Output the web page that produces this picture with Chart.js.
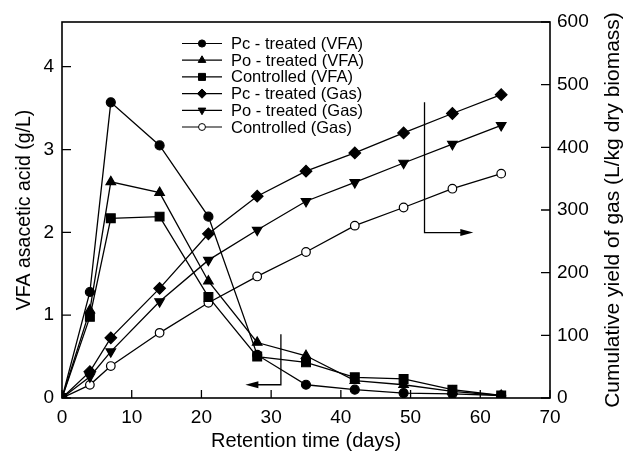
<!DOCTYPE html>
<html>
<head>
<meta charset="utf-8">
<script src="https://cdn.jsdelivr.net/npm/chart.js@4"></script>
<style>
  html, body { margin: 0; padding: 0; background: #fff; }
  #wrap { width: 633px; height: 455px; }
</style>
</head>
<body>
<div id="wrap"><canvas id="chart"></canvas></div>
<script>
// retention time (days)
var days = [0, 4, 7, 14, 21, 28, 35, 42, 49, 56, 63];

// VFA as acetic acid (g/L)
var pcVfa = [0, 1.28, 3.57, 3.05, 2.19, 0.52, 0.16, 0.10, 0.06, 0.05, 0.03];
var poVfa = [0, 1.06, 2.61, 2.48, 1.41, 0.67, 0.51, 0.21, 0.16, 0.08, 0.03];
var ctrlVfa = [0, 0.98, 2.17, 2.19, 1.22, 0.50, 0.43, 0.25, 0.23, 0.10, 0.03];

// cumulative gas yield (L/kg dry biomass)
var pcGas = [0, 42, 96, 175, 262, 322, 362, 391, 423, 454, 484];
var poGas = [0, 34, 74, 154, 220, 268, 314, 344, 375, 405, 435];
var ctrlGas = [0, 21, 51, 104, 152, 194, 233, 275, 304, 334, 358];

// tick labels
var xTicks = [0, 10, 20, 30, 40, 50, 60, 70];
var vfaTicks = [0, 1, 2, 3, 4];
var gasTicks = [0, 100, 200, 300, 400, 500, 600];

// arrows that say which axis belongs to which group: [x0, y0, x1, y1, x2, y2, axis]
var arrows = [
  [52, 472, 52, 264, 59, 264, "yGas"],
  [31.4, 0.77, 31.4, 0.16, 26.3, 0.16, "yVfa"]
];

var FONT = "'Liberation Sans', Arial, Helvetica, sans-serif";
var gasTitle = "Cumulative yield of gas (L/kg dry biomass)";

function pts(ys) {
  return days.map(function (d, i) { return { x: d, y: ys[i] }; });
}

function serie(label, ys, axis, style, r, open, rot) {
  return {
    label: label,
    data: pts(ys),
    yAxisID: axis,
    borderColor: "#000",
    borderWidth: 1.3,
    pointStyle: style,
    pointRadius: r,
    pointRotation: rot || 0,
    pointBackgroundColor: open ? "#fff" : "#000",
    pointBorderColor: "#000",
    pointBorderWidth: 1.2,
    tension: 0,
    fill: false
  };
}

var datasets = [
  serie("Pc - treated (VFA)", pcVfa, "yVfa", "circle", 4.5),
  serie("Po - treated (VFA)", poVfa, "yVfa", "triangle", 5.5),
  serie("Controlled (VFA)", ctrlVfa, "yVfa", "rect", 6.2),
  serie("Pc - treated (Gas)", pcGas, "yGas", "rectRot", 5.8),
  serie("Po - treated (Gas)", poGas, "yGas", "triangle", 5.5, false, 180),
  serie("Controlled (Gas)", ctrlGas, "yGas", "circle", 4.3, true)
];

// frame, inside ticks, arrows, legend and the right title (reads bottom to top)
var decor = {
  id: "decor",
  afterDraw: function (chart) {
    var ctx = chart.ctx, a = chart.chartArea;
    var sx = chart.scales.x, sv = chart.scales.yVfa, sg = chart.scales.yGas;
    ctx.save();
    ctx.strokeStyle = "#000";
    ctx.lineWidth = 1.6;
    ctx.strokeRect(a.left, a.top, a.right - a.left, a.bottom - a.top);

    ctx.lineWidth = 1.3;
    ctx.beginPath();
    xTicks.forEach(function (v) {
      var p = sx.getPixelForValue(v);
      ctx.moveTo(p, a.bottom); ctx.lineTo(p, a.bottom - 8);
    });
    vfaTicks.forEach(function (v) {
      var p = sv.getPixelForValue(v);
      ctx.moveTo(a.left, p); ctx.lineTo(a.left + 9, p);
    });
    gasTicks.forEach(function (v) {
      var p = sg.getPixelForValue(v);
      ctx.moveTo(a.right, p); ctx.lineTo(a.right - 9, p);
    });
    ctx.stroke();

    // arrows
    arrows.forEach(function (ar) {
      var ys = chart.scales[ar[6]];
      var x0 = sx.getPixelForValue(ar[0]), y0 = ys.getPixelForValue(ar[1]);
      var x1 = sx.getPixelForValue(ar[2]), y1 = ys.getPixelForValue(ar[3]);
      var x2 = sx.getPixelForValue(ar[4]), y2 = ys.getPixelForValue(ar[5]);
      var dir = x2 > x1 ? 1 : -1;
      ctx.lineWidth = 1.3;
      ctx.beginPath();
      ctx.moveTo(x0, y0); ctx.lineTo(x1, y1); ctx.lineTo(x2 - dir * 8, y2);
      ctx.stroke();
      ctx.beginPath();
      ctx.moveTo(x2, y2);
      ctx.lineTo(x2 - dir * 13, y2 - 3.5);
      ctx.lineTo(x2 - dir * 13, y2 + 3.5);
      ctx.closePath();
      ctx.fillStyle = "#000";
      ctx.fill();
    });

    // legend
    var lx0 = 182, lx1 = 222, tx = 231, ly = 43.5, step = 16.7;
    ctx.font = "16.5px " + FONT;
    ctx.textBaseline = "middle";
    ctx.textAlign = "left";
    chart.data.datasets.forEach(function (ds, i) {
      var y = ly + i * step;
      ctx.lineWidth = 1.2;
      ctx.strokeStyle = "#000";
      ctx.beginPath();
      ctx.moveTo(lx0, y); ctx.lineTo(lx1, y);
      ctx.stroke();
      ctx.fillStyle = ds.pointBackgroundColor;
      ctx.lineWidth = 1;
      Chart.helpers.drawPoint(ctx, {
        pointStyle: ds.pointStyle,
        rotation: ds.pointRotation,
        radius: ds.pointRadius * 0.8,
        borderWidth: 1
      }, (lx0 + lx1) / 2, y);
      ctx.fillStyle = "#000";
      ctx.fillText(ds.label, tx, y + 1);
    });

    // right axis title
    ctx.translate(613, 210);
    ctx.rotate(-Math.PI / 2);
    ctx.font = "21px " + FONT;
    ctx.textAlign = "center";
    ctx.textBaseline = "middle";
    ctx.fillStyle = "#000";
    ctx.fillText(gasTitle, 0, 0);
    ctx.restore();
  }
};

function setTicks(list) {
  return function (scale) {
    scale.ticks = list.map(function (v) { return { value: v }; });
  };
}

var ctx = document.getElementById("chart").getContext("2d");
var chart = new Chart(ctx, {
  type: "line",
  data: { datasets: datasets },
  plugins: [decor],
  options: {
    responsive: true,
    maintainAspectRatio: false,
    animation: false,
    layout: { padding: { top: 22, left: 0, right: 0, bottom: 0 } },
    plugins: { legend: { display: false }, tooltip: { enabled: false } },
    scales: {
      x: {
        type: "linear",
        min: 0, max: 70,
        afterBuildTicks: setTicks(xTicks),
        afterFit: function (s) { s.height = 57; },
        grid: { display: false, drawTicks: false },
        border: { display: false },
        ticks: { color: "#000", font: { family: FONT, size: 19 }, padding: 8, maxRotation: 0 },
        title: { display: true, text: "Retention time (days)", color: "#000",
                 font: { family: FONT, size: 20 }, padding: { top: 0, bottom: 2 } }
      },
      yVfa: {
        type: "linear", position: "left",
        min: 0, max: 4.54,
        afterBuildTicks: setTicks(vfaTicks),
        afterFit: function (s) { s.width = 62; },
        grid: { display: false, drawTicks: false },
        border: { display: false },
        ticks: { color: "#000", font: { family: FONT, size: 19 }, padding: 8 },
        title: { display: true, text: "VFA asacetic acid (g/L)", color: "#000",
                 font: { family: FONT, size: 19.5 }, padding: { top: 13, bottom: 0 } }
      },
      yGas: {
        type: "linear", position: "right",
        min: 0, max: 600,
        afterBuildTicks: setTicks(gasTicks),
        afterFit: function (s) { s.width = 83; },
        grid: { display: false, drawTicks: false },
        border: { display: false },
        ticks: { color: "#000", font: { family: FONT, size: 19 }, padding: 7 },
        title: { display: false }
      }
    }
  }
});
</script>
</body>
</html>
